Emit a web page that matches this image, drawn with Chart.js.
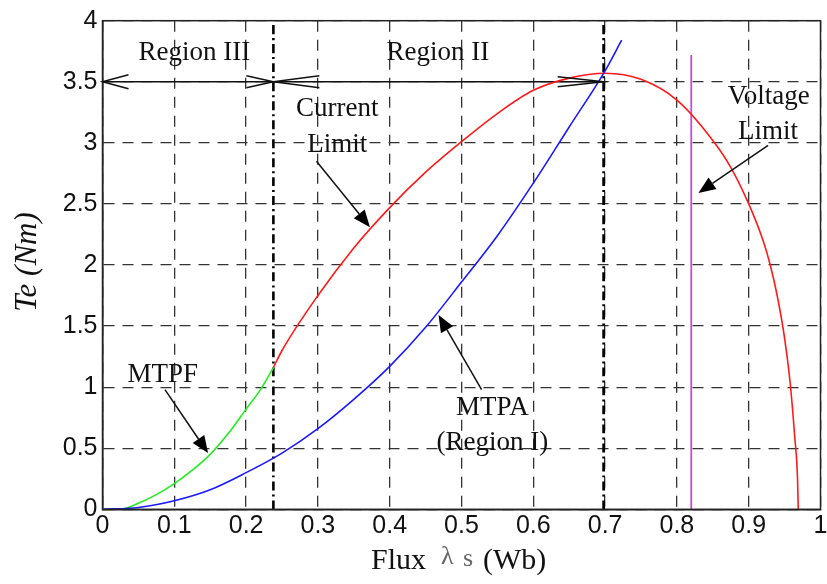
<!DOCTYPE html>
<html>
<head>
<meta charset="utf-8">
<script src="https://cdn.jsdelivr.net/npm/chart.js@4.4.0/dist/chart.umd.min.js"></script>
<style>
  html, body { margin: 0; padding: 0; background: #fff; }
  #wrap { width: 827px; height: 584px; }
</style>
</head>
<body>
<div id="wrap"><canvas id="torqueChart" width="827" height="584"></canvas></div>
<script>
// flux (Wb) / torque (Nm) points for each operating curve
const mtpfFlux   = [0, 0.025, 0.05, 0.075, 0.1, 0.125, 0.15, 0.175, 0.2, 0.22, 0.238];
const mtpfTorque = [0, 0.0, 0.05, 0.12, 0.21, 0.32, 0.45, 0.62, 0.82, 0.98, 1.16];

const currentFlux   = [0.238, 0.25, 0.3, 0.35, 0.4, 0.45, 0.5, 0.55, 0.6, 0.65, 0.7,
                       0.75, 0.8, 0.85, 0.875, 0.9, 0.92, 0.93, 0.94, 0.95, 0.958, 0.964, 0.968, 0.969];
const currentTorque = [1.16, 1.3, 1.75, 2.14, 2.47, 2.76, 3.01, 3.24, 3.43, 3.53, 3.57,
                       3.52, 3.35, 3.02, 2.8, 2.5, 2.2, 2.0, 1.74, 1.4, 1.02, 0.6, 0.25, 0.0];

const mtpaFlux   = [0, 0.05, 0.1, 0.15, 0.2, 0.25, 0.3, 0.35, 0.4, 0.45, 0.5, 0.55, 0.6, 0.65, 0.7, 0.723];
const mtpaTorque = [0, 0.015, 0.07, 0.16, 0.3, 0.46, 0.66, 0.9, 1.17, 1.49, 1.86, 2.24, 2.67, 3.13, 3.59, 3.84];

const voltageFlux   = [0.82, 0.82];
const voltageTorque = [0, 3.72];

// region boundaries and the 3.5 Nm marker line
const regionBounds = [0.238, 0.698];
const regionLevel  = 3.5;

const xTicks = [0, 0.1, 0.2, 0.3, 0.4, 0.5, 0.6, 0.7, 0.8, 0.9, 1];
const yTicks = [0, 0.5, 1, 1.5, 2, 2.5, 3, 3.5, 4];

// text labels and pointer arrows, in data units
const labels = [
  { text: 'Region III', x: 0.128, y: 3.74 },
  { text: 'Region II',  x: 0.467, y: 3.74 },
  { text: 'Current',    x: 0.327, y: 3.28 },
  { text: 'Limit',      x: 0.327, y: 2.98 },
  { text: 'Voltage',    x: 0.928, y: 3.38 },
  { text: 'Limit',      x: 0.927, y: 3.09 },
  { text: 'MTPF',       x: 0.084, y: 1.10 },
  { text: 'MTPA',       x: 0.543, y: 0.83 },
  { text: '(Region I)', x: 0.543, y: 0.54 }
];
const pointers = [
  { from: [0.298, 2.85], to: [0.3725, 2.31] },
  { from: [0.927, 2.98], to: [0.83, 2.59] },
  { from: [0.087, 0.98], to: [0.147, 0.46] },
  { from: [0.528, 0.98], to: [0.468, 1.59] }
];
// open arrowheads on the region line: [x, direction, length, spread]
const regionHeads = [[0, -1, 26, 7], [0.238, 1, 27, 6], [0.238, -1, 46, 6], [0.698, 1, 46, 5]];

const pts = (xs, ys) => xs.map((x, i) => ({ x: x, y: ys[i] }));

function line(data, color, width, dash) {
  return {
    data: data,
    borderColor: color,
    borderWidth: width,
    borderDash: dash || [],
    pointRadius: 0,
    fill: false,
    cubicInterpolationMode: 'monotone',
    showLine: true
  };
}

const serif = '"Liberation Serif", "Times New Roman", serif';

const overlay = {
  id: 'overlay',
  afterDatasetsDraw(chart) {
    const ctx = chart.ctx;
    const xs = chart.scales.x, ys = chart.scales.y;
    const area = chart.chartArea;
    const px = v => xs.getPixelForValue(v);
    const py = v => ys.getPixelForValue(v);
    ctx.save();

    // frame
    ctx.strokeStyle = '#222';
    ctx.lineWidth = 1.5;
    ctx.strokeRect(area.left, area.top, area.right - area.left, area.bottom - area.top);

    // open arrowheads along the 3.5 line
    ctx.strokeStyle = '#111';
    ctx.lineWidth = 1.5;
    regionHeads.forEach(h => {
      const x = px(h[0]), y = py(regionLevel);
      ctx.beginPath();
      ctx.moveTo(x - h[1] * h[2], y - h[3]);
      ctx.lineTo(x, y);
      ctx.lineTo(x - h[1] * h[2], y + h[3]);
      ctx.stroke();
    });

    // pointer arrows with filled heads
    ctx.fillStyle = '#000';
    pointers.forEach(p => {
      const x0 = px(p.from[0]), y0 = py(p.from[1]);
      const x1 = px(p.to[0]), y1 = py(p.to[1]);
      const a = Math.atan2(y1 - y0, x1 - x0);
      const hl = 17, hw = 7;
      const bx = x1 - hl * Math.cos(a), by = y1 - hl * Math.sin(a);
      ctx.beginPath();
      ctx.moveTo(x0, y0);
      ctx.lineTo(bx, by);
      ctx.lineWidth = 1.5;
      ctx.stroke();
      ctx.beginPath();
      ctx.moveTo(x1, y1);
      ctx.lineTo(bx + hw * Math.sin(a), by - hw * Math.cos(a));
      ctx.lineTo(bx - hw * Math.sin(a), by + hw * Math.cos(a));
      ctx.closePath();
      ctx.fill();
    });

    // annotation text
    ctx.fillStyle = '#111';
    ctx.font = '27px ' + serif;
    ctx.textAlign = 'center';
    ctx.textBaseline = 'middle';
    labels.forEach(l => ctx.fillText(l.text, px(l.x), py(l.y)));

    // axis titles
    ctx.save();
    ctx.translate(28, 262);
    ctx.rotate(-Math.PI / 2);
    ctx.font = 'italic 31px ' + serif;
    ctx.fillText('Te (Nm)', 0, 0);
    ctx.restore();

    ctx.textAlign = 'left';
    ctx.font = '30px ' + serif;
    ctx.fillStyle = '#111';
    ctx.fillText('Flux', 371, 561);
    ctx.fillStyle = '#666';
    ctx.font = '26px ' + serif;
    ctx.fillText('\u03bb', 441, 557);
    ctx.fillText('s', 463, 559);
    ctx.fillStyle = '#111';
    ctx.font = '30px ' + serif;
    ctx.fillText('(Wb)', 483, 561);

    ctx.restore();
  }
};

const tickFont = { family: '"Liberation Sans", Arial, sans-serif', size: 25 };
const gridStyle = { color: '#333', lineWidth: 1.3, drawTicks: false };

new Chart(document.getElementById('torqueChart'), {
  type: 'scatter',
  data: {
    datasets: [
      line(pts(mtpaFlux, mtpaTorque), '#1a1aff', 1.6),
      line(pts(mtpfFlux, mtpfTorque), '#22ee22', 1.6),
      line(pts(currentFlux, currentTorque), '#ff1a1a', 1.6),
      line(pts(voltageFlux, voltageTorque), '#c44ad6', 1.8),
      line([{ x: regionBounds[0], y: 0 }, { x: regionBounds[0], y: 4 }], '#000', 2.6, [9, 4, 2, 4]),
      line([{ x: regionBounds[1], y: 0 }, { x: regionBounds[1], y: 4 }], '#000', 2.8, [9, 4, 2, 4]),
      line([{ x: 0, y: regionLevel }, { x: regionBounds[1], y: regionLevel }], '#111', 1.6)
    ]
  },
  options: {
    responsive: false,
    animation: false,
    events: [],
    layout: { padding: { left: 0, right: 6.5, top: 20.7, bottom: 0 } },
    plugins: { legend: { display: false }, tooltip: { enabled: false } },
    scales: {
      x: {
        type: 'linear',
        min: 0,
        max: 1,
        afterBuildTicks: s => { s.ticks = xTicks.map(v => ({ value: v })); },
        afterFit: s => { s.height = 74.7; s.paddingLeft = 0; s.paddingRight = 0; },
        ticks: {
          font: tickFont,
          color: '#111',
          padding: 2,
          maxRotation: 0,
          callback: v => String(v)
        },
        grid: gridStyle,
        border: { display: true, color: '#222', width: 1.5, dash: [11, 8] }
      },
      y: {
        type: 'linear',
        min: 0,
        max: 4,
        afterBuildTicks: s => { s.ticks = yTicks.map(v => ({ value: v })); },
        afterFit: s => { s.width = 102.5; s.paddingTop = 0; s.paddingBottom = 0; },
        ticks: {
          font: tickFont,
          color: '#111',
          padding: 5,
          callback: v => String(v)
        },
        grid: gridStyle,
        border: { display: true, color: '#222', width: 1.5, dash: [11, 8] }
      }
    }
  },
  plugins: [overlay]
});
</script>
</body>
</html>
